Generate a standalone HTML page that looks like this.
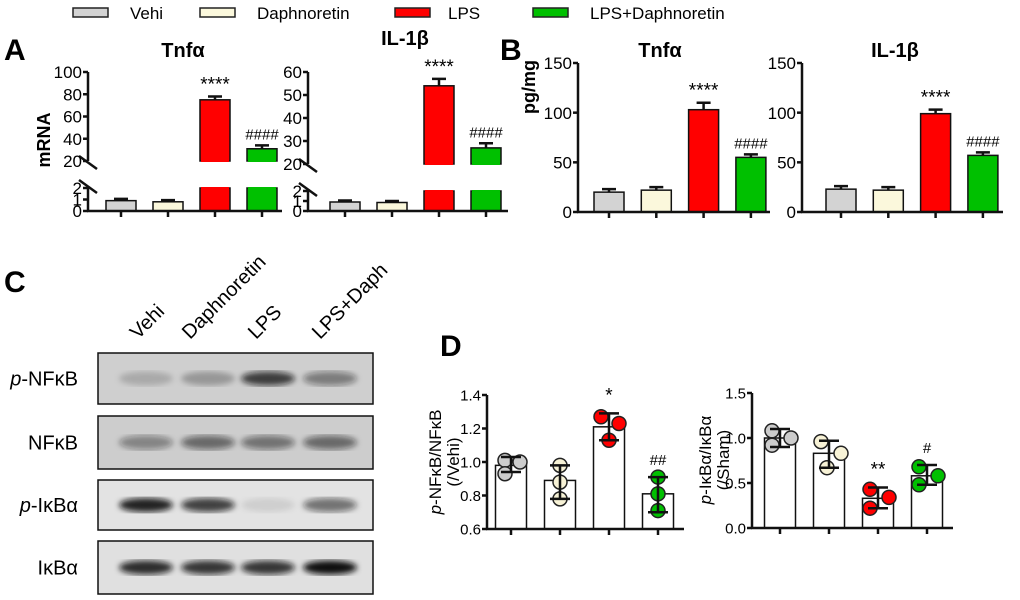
<!DOCTYPE html>
<html><head><meta charset="utf-8">
<style>
body{margin:0;background:#fff;width:1020px;height:600px;overflow:hidden;font-family:"Liberation Sans",Arial,sans-serif;}
svg{position:absolute;left:0;top:0}
</style></head>
<body>
<svg id="fig" width="1020" height="600" viewBox="0 0 1020 600" font-family="Liberation Sans, Arial, sans-serif">
 <g font-size="17">
  <g><rect x="73" y="8" width="35" height="9" fill="#d3d3d3" stroke="#222" stroke-width="1.5"/><text x="130" y="19">Vehi</text></g>
  <g><rect x="200" y="8" width="35" height="9" fill="#fbf8dc" stroke="#222" stroke-width="1.5"/><text x="257" y="19">Daphnoretin</text></g>
  <g><rect x="395" y="8" width="35" height="9" fill="#ff0000" stroke="#222" stroke-width="1.5"/><text x="448" y="19">LPS</text></g>
  <g><rect x="533" y="8" width="35" height="9" fill="#00c000" stroke="#222" stroke-width="1.5"/><text x="590" y="19">LPS+Daphnoretin</text></g>
 </g>
 <text x="4" y="60" font-size="30" font-weight="bold">A</text>
 <text x="500" y="60" font-size="30" font-weight="bold">B</text>
 <text x="4" y="292" font-size="30" font-weight="bold">C</text>
 <text x="440" y="356" font-size="30" font-weight="bold">D</text>
 <text transform="translate(50,140) rotate(-90)" text-anchor="middle" font-size="18" font-weight="bold">mRNA</text>
 <text transform="translate(535,87) rotate(-90)" text-anchor="middle" font-size="18" font-weight="bold">pg/mg</text>
 <g id="chartA1"></g><g id="chartA2"></g><g id="chartB1"></g><g id="chartB2"></g><g id="chartD1"></g><g id="chartD2"></g>
 <g id="blot"></g>
</svg>
<script>
const NS="http://www.w3.org/2000/svg";
const colors=["#d3d3d3","#fbf8dc","#ff0000","#00c000"];
const dotColors=["#cccccc","#f7f2d6","#ff0000","#00c000"];
// Panel A data
const categories=["Vehi","Daphnoretin","LPS","LPS+Daphnoretin"];
const aTnfValues=[0.9,0.8,75,31];
const aTnfErr=[1.05,0.95,78,34];
const aTnfTicksUpper=[20,40,60,80,100];
const aTnfTicksLower=[0,1,2];
const aIlValues=[0.9,0.85,54,27];
const aIlErr=[1.05,1.0,57,29];
const aIlTicksUpper=[20,30,40,50,60];
const aIlTicksLower=[0,1,2];
const aTnfMarks=["","","****","####"];
const aIlMarks=["","","****","####"];
// Panel B data
const bTnfValues=[20,22,103,55];
const bTnfErr=[23,25,110,58];
const bIlValues=[23,22,99,57];
const bIlErr=[26,25,103,60];
const bTicks=[0,50,100,150];
const bTnfMarks=["","","****","####"];
const bIlMarks=["","","****","####"];
// Panel D data
const dNfkbValues=[0.98,0.89,1.21,0.81];
const dNfkbErrLo=[0.94,0.78,1.13,0.70];
const dNfkbErrHi=[1.03,0.98,1.29,0.91];
const dNfkbPoints=[[1.01,0.93,1.00],[0.98,0.88,0.78],[1.27,1.23,1.13],[0.91,0.81,0.71]];
const dNfkbTicks=[0.6,0.8,1.0,1.2,1.4];
const dNfkbMarks=["","","*","##"];
const dIkbValues=[1.0,0.83,0.33,0.58];
const dIkbErrLo=[0.90,0.67,0.22,0.48];
const dIkbErrHi=[1.10,0.97,0.45,0.70];
const dIkbPoints=[[1.08,0.92,1.00],[0.96,0.67,0.83],[0.43,0.22,0.34],[0.68,0.48,0.58]];
const dIkbTicks=[0.0,0.5,1.0,1.5];
const dIkbMarks=["","","**","#"];
const nfkbDx=[[-6,-6,9],[0,0,0],[-8,10,0],[0,0,0]];
const ikbDx=[[-8,-8,11],[-8,-2,12],[-8,-8,11],[-8,-8,11]];

function el(tag,attrs,parent,txt){const e=document.createElementNS(NS,tag);for(const k in attrs)e.setAttribute(k,attrs[k]);if(txt!==undefined)e.textContent=txt;parent.appendChild(e);return e;}

function barChart(g,o){
  
  
  const y=o.y;
  o.values.forEach((v,i)=>{
    const cx=o.x0+o.step*i, bx=cx-o.bw/2;
    const top=y(v);
    if(o.broken && v>o.lowMax){
      const b1=el('rect',{x:bx,y:y(v),width:o.bw,height:o.yUpperBase-y(v),fill:o.fill[i],stroke:'#111','stroke-width':1.5},g);
      
      
      const b2=el('rect',{x:bx,y:o.yLowTop,width:o.bw,height:o.base-o.yLowTop,fill:o.fill[i],stroke:'#111','stroke-width':1.5},g);
      
      
      el('line',{x1:bx+1,x2:bx+o.bw-1,y1:o.yLowTop,y2:o.yLowTop,stroke:o.fill[i],'stroke-width':2},g);
      el('line',{x1:bx+1,x2:bx+o.bw-1,y1:o.yUpperBase,y2:o.yUpperBase,stroke:o.fill[i],'stroke-width':2},g);
    } else {
      const b=el('rect',{x:bx,y:top,width:o.bw,height:o.base-top,fill:o.fill[i],stroke:'#111','stroke-width':1.5},g);
      
      
    }
    const hi=o.errHi[i], lo=o.errLo?o.errLo[i]:v;
    const d=`M${cx},${y(v)}V${y(hi)}M${cx-o.cap},${y(hi)}H${cx+o.cap}`+(o.errLo?`M${cx},${y(v)}V${y(lo)}M${cx-o.cap},${y(lo)}H${cx+o.cap}`:'');
    if(o.points){
      o.points[i].forEach((p,j)=>{
        const c=el('circle',{cx:cx+o.pointDx[i][j],cy:y(p),r:7,fill:dotColors[i],stroke:'#222','stroke-width':1.5},g);
        
        
      });
    }
    const e=el('path',{d:d,stroke:'#111','stroke-width':2.5,fill:'none'},g);
    
    
    if(o.marks[i]){
      const t=el('text',{x:cx,y:y(hi)-(o.markGap||6),'text-anchor':'middle','font-size':o.marks[i][0]==='*'?(o.starSize||19):(o.hashSize||15)},g,o.marks[i]);
      
      
    }
    el('line',{x1:cx,x2:cx,y1:o.base,y2:o.base+6,stroke:'#111','stroke-width':2.5},g);
  });
  const ax=el('g',{},g);
  
  
  if(o.broken){
    el('line',{x1:o.ax,x2:o.ax,y1:o.yTop,y2:o.yUpperBase,stroke:'#111','stroke-width':2.5},ax);
    el('line',{x1:o.ax,x2:o.ax,y1:o.yLowTop,y2:o.base,stroke:'#111','stroke-width':2.5},ax);
    el('line',{x1:o.ax-9,x2:o.ax+9,y1:o.yUpperBase-5,y2:o.yUpperBase+8,stroke:'#111','stroke-width':2.5},ax);
    el('line',{x1:o.ax-9,x2:o.ax+9,y1:o.yLowTop-8,y2:o.yLowTop+5,stroke:'#111','stroke-width':2.5},ax);
  } else {
    el('line',{x1:o.ax,x2:o.ax,y1:o.yTop,y2:o.base,stroke:'#111','stroke-width':2.5},ax);
  }
  o.ticks.forEach(t=>{
    const ty=y(t);
    el('line',{x1:o.ax-5,x2:o.ax,y1:ty,y2:ty,stroke:'#111','stroke-width':2.5},ax);
    const tl=el('text',{x:o.ax-6,y:ty+(o.tickSize||17)*0.36,'text-anchor':'end','font-size':o.tickSize||17},ax,o.tickFmt?o.tickFmt(t):String(t));
    
    
  });
  const xa=el('line',{x1:o.ax-1,x2:o.axEnd,y1:o.base,y2:o.base,stroke:'#111','stroke-width':2.5},g);
  
  
  if(o.title){
    const tt=el('text',{x:o.titleX,y:o.titleY,'text-anchor':'middle','font-size':20,'font-weight':'bold'},g,o.title);
    
    
  }
}
function brokenScale(base,lowTop,lowMax,upBase,upMin,top,upMax){
  return v=> v<=lowMax ? base-(v/lowMax)*(base-lowTop) : upBase-(v-upMin)/(upMax-upMin)*(upBase-top);
}
function linScale(base,top,min,max){return v=>base-(v-min)/(max-min)*(base-top);}

barChart(document.getElementById('chartA1'),{name:'chart-a-tnfa',x0:121,step:47,bw:30,cap:7,values:aTnfValues,errHi:aTnfErr,fill:colors,marks:aTnfMarks,
 y:brokenScale(211,188,2,161,20,72,100),broken:true,lowMax:2,base:211,yLowTop:188,yUpperBase:161,yTop:72,ax:88,axEnd:282,
 ticks:aTnfTicksLower.concat(aTnfTicksUpper),title:'Tnfα',titleX:183,titleY:57});
barChart(document.getElementById('chartA2'),{name:'chart-a-il1b',x0:345,step:47,bw:30,cap:7,values:aIlValues,errHi:aIlErr,fill:colors,marks:aIlMarks,
 y:brokenScale(211,191,2,164,20,72,60),broken:true,lowMax:2,base:211,yLowTop:191,yUpperBase:164,yTop:72,ax:308,axEnd:508,
 ticks:aIlTicksLower.concat(aIlTicksUpper),title:'IL-1β',titleX:405,titleY:45});
barChart(document.getElementById('chartB1'),{name:'chart-b-tnfa',x0:609,step:47.3,bw:30,cap:7,values:bTnfValues,errHi:bTnfErr,fill:colors,marks:bTnfMarks,
 y:linScale(212,63,0,150),base:212,yTop:63,ax:578,axEnd:770,ticks:bTicks,title:'Tnfα',titleX:660,titleY:57});
barChart(document.getElementById('chartB2'),{name:'chart-b-il1b',x0:841,step:47.3,bw:30,cap:7,values:bIlValues,errHi:bIlErr,fill:colors,marks:bIlMarks,
 y:linScale(212,63,0,150),base:212,yTop:63,ax:802,axEnd:1003,ticks:bTicks,title:'IL-1β',titleX:895,titleY:57});
barChart(document.getElementById('chartD1'),{name:'chart-d-p-nfkb-ratio',x0:511,step:49,bw:31,cap:10,values:dNfkbValues,errHi:dNfkbErrHi,errLo:dNfkbErrLo,fill:['#fff','#fff','#fff','#fff'],marks:dNfkbMarks,
 points:dNfkbPoints,pointDx:nfkbDx,markGap:12,y:linScale(529,395,0.6,1.4),base:529,yTop:395,ax:487,axEnd:684,ticks:dNfkbTicks,tickFmt:t=>t.toFixed(1),tickSize:15});
barChart(document.getElementById('chartD2'),{name:'chart-d-p-ikba-ratio',x0:780,step:49,bw:31,cap:10,values:dIkbValues,errHi:dIkbErrHi,errLo:dIkbErrLo,fill:['#fff','#fff','#fff','#fff'],marks:dIkbMarks,
 points:dIkbPoints,pointDx:ikbDx,markGap:12,y:linScale(528,393,0,1.5),base:528,yTop:393,ax:752,axEnd:953,ticks:dIkbTicks,tickFmt:t=>t.toFixed(1),tickSize:15});

const svg=document.getElementById('fig');
const t1=el('text',{transform:'translate(441,462) rotate(-90)','text-anchor':'middle','font-size':17},svg);


t1.innerHTML='<tspan font-style="italic">p</tspan>-NFκB/NFκB';
const t1b=el('text',{transform:'translate(459,462) rotate(-90)','text-anchor':'middle','font-size':17},svg,'(/Vehi)');


const t2=el('text',{transform:'translate(711,460) rotate(-90)','text-anchor':'middle','font-size':17},svg);


t2.innerHTML='<tspan font-style="italic">p</tspan>-IκBα/IκBα';
const t2b=el('text',{transform:'translate(729,460) rotate(-90)','text-anchor':'middle','font-size':17},svg,'(/Sham)');



const blot=document.getElementById('blot');
const defs=el('defs',{},blot);
const f=el('filter',{id:'blur'},defs);el('feGaussianBlur',{stdDeviation:3},f);
const laneX=[138,200,260,322];
const rows=[
 {label:'p-NFκB',italicP:true,y:353,h:51,bg:'#cfcfcf',bands:[0.2,0.3,0.85,0.5]},
 {label:'NFκB',y:416,h:53,bg:'#cdcdcd',bands:[0.45,0.6,0.55,0.6]},
 {label:'p-IκBα',italicP:true,y:480,h:50,bg:'#e3e3e3',bands:[1.0,0.85,0.1,0.6]},
 {label:'IκBα',y:541,h:53,bg:'#e0e0e0',bands:[0.95,0.9,0.9,1.1]}];
rows.forEach(r=>{
  const g=el('g',{},blot);
  
  
  el('rect',{x:98,y:r.y,width:275,height:r.h,fill:r.bg,stroke:'#111','stroke-width':1.5},g);
  r.bands.forEach((b,i)=>{
    el('ellipse',{cx:laneX[i]+8,cy:r.y+r.h/2,rx:27,ry:7,fill:'#111','fill-opacity':Math.min(1,b*0.9),filter:'url(#blur)'},g);
  });
  const t=el('text',{x:78,y:r.y+r.h/2+7,'text-anchor':'end','font-size':20},g);
  
  
  t.innerHTML=r.italicP?'<tspan font-style="italic">p</tspan>'+r.label.slice(1):r.label;
});
const lanes=['Vehi','Daphnoretin','LPS','LPS+Daph'];
const laneLX=[138,190,256,320];
lanes.forEach((l,i)=>{
  const t=el('text',{transform:`translate(${laneLX[i]},340) rotate(-45)`,'font-size':20},blot,l);
  
  
});
</script>
</body></html>
